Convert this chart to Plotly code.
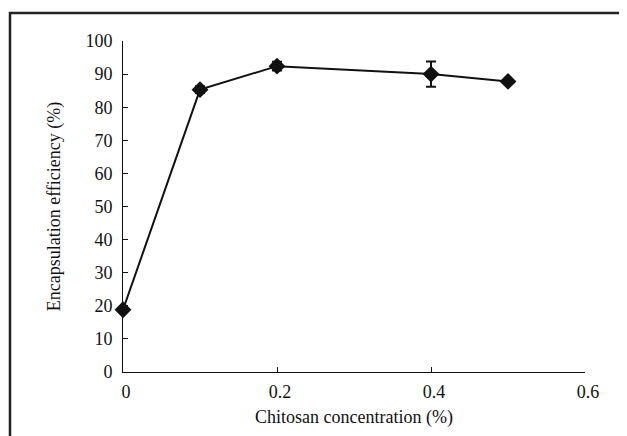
import plotly.graph_objects as go

conc = [0, 0.1, 0.2, 0.4, 0.5]
efficiency = [18.8, 85.3, 92.4, 90.0, 87.8]
err = [0.6, 1.0, 1.3, 3.8, 0.6]
x_ticks = [0, 0.2, 0.4, 0.6]
y_ticks = list(range(0, 101, 10))

fig = go.Figure()
fig.add_trace(go.Scatter(
    x=conc, y=efficiency, mode="lines+markers",
    line=dict(color="#111", width=2),
    marker=dict(symbol="diamond", size=13, color="#111"),
    error_y=dict(type="data", array=err, visible=True, color="#111", thickness=2, width=5),
    showlegend=False, cliponaxis=False,
))

title_font = dict(family="Liberation Serif, Times New Roman, serif", size=18, color="#111")
tick_font = dict(family="Liberation Serif, Times New Roman, serif", size=18, color="#111")
fig.update_layout(
    width=627, height=436,
    margin=dict(l=115, r=50, t=33, b=72),
    paper_bgcolor="white", plot_bgcolor="white",
    font=dict(family="Liberation Serif, Times New Roman, serif", size=18, color="#111"),
    xaxis=dict(range=[0, 0.6], tickvals=x_ticks, ticktext=["0", "0.2", "0.4", "0.6"],
               ticks="inside", ticklen=5, tickcolor="#111", showline=True, linecolor="#111",
               linewidth=1, showgrid=False, zeroline=False, ticklabelstandoff=3, ticklabelshift=3,
               title=dict(text="Chitosan concentration (%)", standoff=9, font=title_font),
               tickfont=tick_font),
    yaxis=dict(range=[0, 100], tickvals=y_ticks, ticks="inside", ticklen=5, tickcolor="#111",
               showline=True, linecolor="#111", linewidth=1, showgrid=False, zeroline=False,
               ticklabelstandoff=6,
               title=dict(text="Encapsulation efficiency (%)", standoff=20, font=title_font),
               tickfont=tick_font),
    shapes=[dict(type="rect", xref="paper", yref="paper", x0=-0.2446, x1=1.3, y0=-0.6, y1=1.0846,
                 line=dict(color="#222", width=2.5), fillcolor="rgba(0,0,0,0)", layer="below")],
)
fig.write_html("out.html")
